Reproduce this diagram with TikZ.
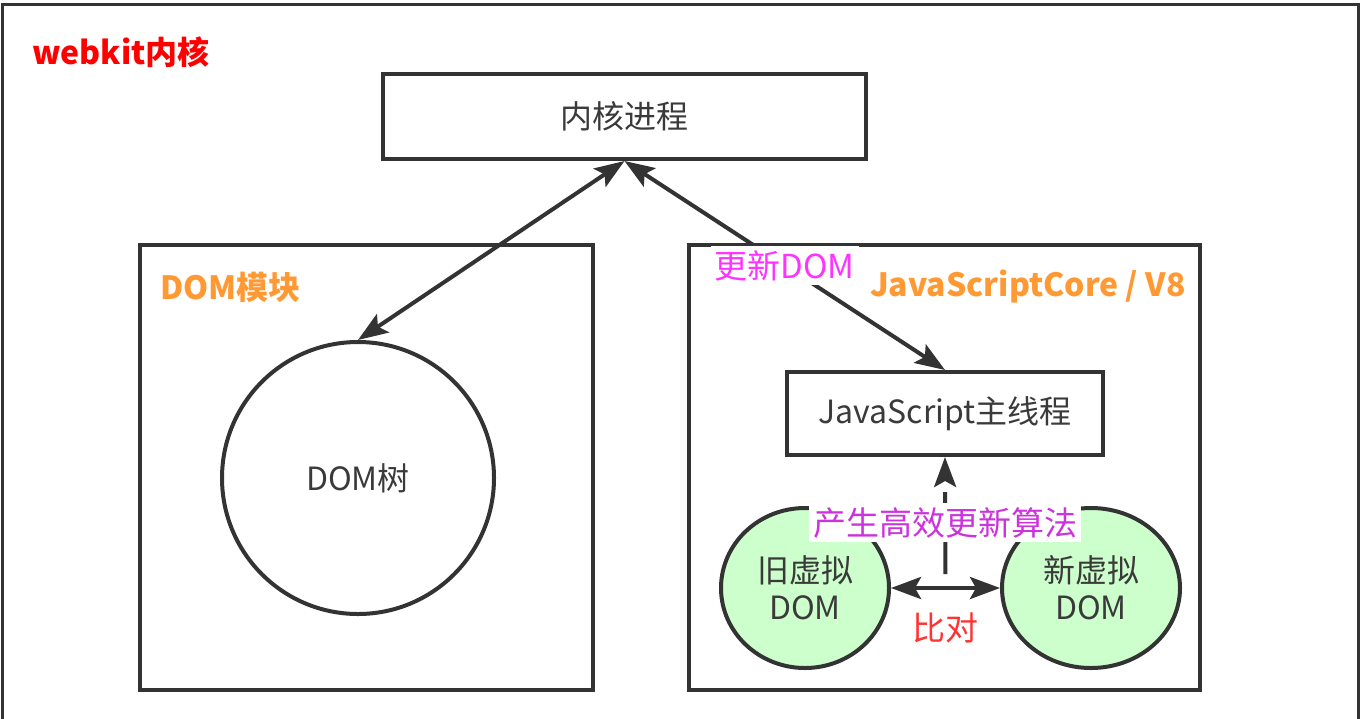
\documentclass[tikz,border=0pt]{standalone}
\usepackage{fontspec}
\setmainfont{Noto Sans CJK SC}
\usetikzlibrary{arrows.meta,shapes.geometric,positioning}
\definecolor{linegray}{HTML}{333333}
\definecolor{textgray}{HTML}{3A3A3A}
\definecolor{titlered}{HTML}{FF0000}
\definecolor{modorange}{HTML}{FF9933}
\definecolor{updmagenta}{HTML}{FF33FF}
\definecolor{algviolet}{HTML}{CC33DD}
\definecolor{cmpred}{HTML}{FF3333}
\definecolor{vdomgreen}{HTML}{CCFFCC}

\begin{document}
\begin{tikzpicture}[x=0.5pt,y=-0.5pt,
	box/.style={draw=linegray,line width=2pt,fill=white,text=textgray,font=\fontsize{16}{18.5}\selectfont},
	vdom/.style={box,ellipse,fill=vdomgreen,minimum height=80pt,align=center,inner sep=0pt},
	title/.style={font=\bfseries\fontsize{16}{19}\selectfont,inner sep=0pt},
	link/.style={draw=linegray,line width=2pt,>={Stealth[length=15pt,width=11pt,inset=3pt]}},
	dashlink/.style={link,dash pattern=on 17pt off 7pt,dash phase=17pt},
	tag/.style={fill=white,inner sep=2pt,font=\fontsize{16.5}{19}\selectfont}]

	\useasboundingbox (0,0) rectangle (1364,718);
	\clip (0,0) rectangle (1364,718);
	\draw[line width=1.5pt,draw=linegray] (2,4) rectangle (1358,760);
	\node[title,text=titlered,anchor=west] (webkit) at (32,52) {webkit内核};

	\node[box,minimum width=241.5pt,minimum height=42.5pt] (kernel) at (624.5,116.5) {内核进程};
	\node[box,minimum width=226.5pt,minimum height=222.5pt] (dommod) at (366.5,467.5) {};
	\node[box,minimum width=255.5pt,minimum height=222.5pt] (jsmod) at (944.5,467.5) {};
	\node[title,text=modorange,anchor=west] (domlbl) at (160,287) {DOM模块};
	\node[title,text=modorange,anchor=east] (jslbl) at (1186,287) {JavaScriptCore / V8};

	\node[box,circle,minimum size=136pt] (domtree) at (358,478) {DOM树};
	\node[box,minimum width=158pt,minimum height=41.5pt] (jsmain) at (945,413.5) {JavaScript主线程};
	\node[vdom,minimum width=84pt] (oldv) at (805,588) {旧虚拟\\DOM};
	\node[vdom,minimum width=89pt] (newv) at (1091,588) {新虚拟\\DOM};

	\draw[link,<->] (kernel.south) -- (domtree.north);
	\draw[link,<->] (kernel.south) -- node[tag,text=updmagenta] (upd) {更新DOM} (jsmain.north);
	\draw[link,<->] (oldv) -- coordinate[midway] (cmp) (newv);
	\node[tag,fill=none,text=cmpred,below=10pt of cmp] (cmplbl) {比对};
	\draw[dashlink,->] (cmp) -- node[tag,text=algviolet] (alg) {产生高效更新算法} (jsmain.south);
\end{tikzpicture}
\end{document}
